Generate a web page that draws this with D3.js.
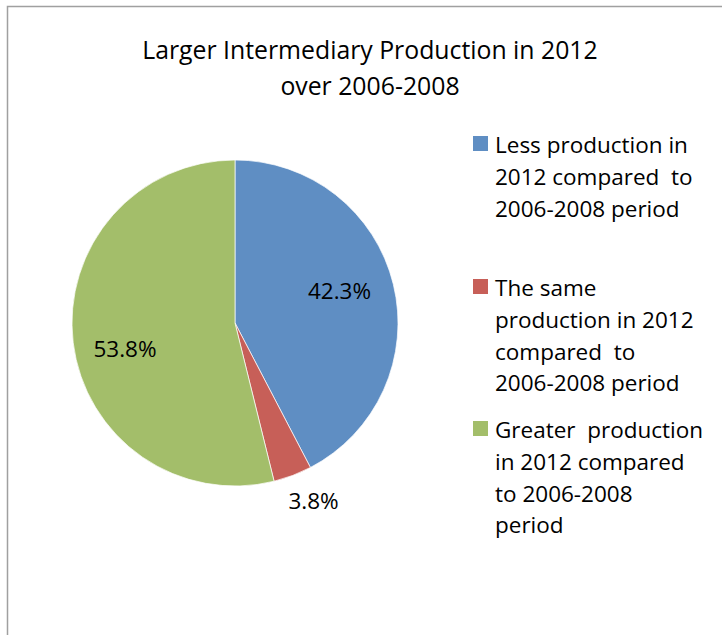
<!DOCTYPE html>
<html><head><meta charset="utf-8">
<script src="https://cdn.jsdelivr.net/npm/d3@7"></script>
<style>body{margin:0;background:#fff;}svg{display:block;}text{white-space:pre;}</style>
</head><body>
<script>
const categories = ["Less production in 2012 compared  to 2006-2008 period","The same production in 2012 compared  to 2006-2008 period","Greater  production in 2012 compared to 2006-2008 period"];
const legendLines = [["Less production in","2012 compared  to","2006-2008 period"],["The same","production in 2012","compared  to","2006-2008 period"],["Greater  production","in 2012 compared","to 2006-2008","period"]];
const values = [42.3, 3.8, 53.8];
const labels = ["42.3%","3.8%","53.8%"];
const colors = ["#5f8ec3","#c75f58","#a3be6a"];
const titleLines = ["Larger Intermediary Production in 2012","over 2006-2008"];

const W=722,H=635;
const font = "'Open Sans', sans-serif";
const svg=d3.select("body").append("svg").attr("width",W).attr("height",H);
svg.append("rect").attr("width",W).attr("height",H).attr("fill","#fff");
svg.append("path").attr("d",`M7.5,${H} V6.5 H${W}`).attr("fill","none").attr("stroke","#a0a0a0").attr("stroke-width",1.5);

svg.append("g").selectAll("text").data(titleLines).join("text")
 .attr("x",370).attr("y",(d,i)=>59+i*36).attr("text-anchor","middle")
 .attr("font-family",font).attr("font-size",24.8).attr("fill","#000").text(d=>d);

const cx=235,cy=323,r=163;
const pie=d3.pie().sort(null).value(d=>d)(values);
const arc=d3.arc().innerRadius(0).outerRadius(r);
const g=svg.append("g").attr("transform",`translate(${cx},${cy})`);
g.selectAll("path").data(pie).join("path").attr("d",arc).attr("fill",(d,i)=>colors[i]).attr("stroke","#fff").attr("stroke-width",0.7);

const labelPos=[[104.5,-24],[78.5,186],[-110,34]];
g.selectAll("text").data(pie).join("text")
 .attr("x",(d,i)=>labelPos[i][0]).attr("y",(d,i)=>labelPos[i][1])
 .attr("text-anchor","middle")
 .attr("font-family",font).attr("font-size",22.5).attr("fill","#000").text((d,i)=>labels[i]);

const legBase=[153,296,438];
const lg=svg.append("g");
legendLines.forEach((lines,i)=>{
  lg.append("rect").attr("x",473).attr("y",legBase[i]-17).attr("width",15).attr("height",15).attr("fill",colors[i]);
  lg.append("text").attr("font-family",font).attr("font-size",22.5).attr("fill","#000")
   .selectAll("tspan").data(lines).join("tspan").attr("x",495).attr("y",(d,j)=>legBase[i]+j*31.8).text(d=>d);
});
</script>
</body></html>
